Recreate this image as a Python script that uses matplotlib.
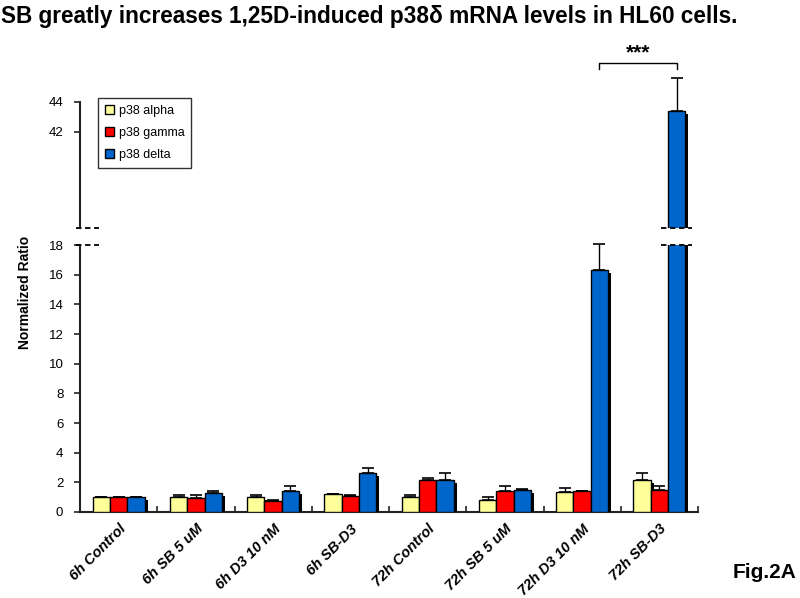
import matplotlib
matplotlib.use("Agg")
import matplotlib.pyplot as plt
import matplotlib.transforms as mtransforms
from matplotlib.patches import Patch
import numpy as np

# ---------------- data ----------------
categories = ["6h Control", "6h SB 5 uM", "6h D3 10 nM", "6h SB-D3",
              "72h Control", "72h SB 5 uM", "72h D3 10 nM", "72h SB-D3"]
series_names = ["p38 alpha", "p38 gamma", "p38 delta"]
alpha_vals = [1.00, 1.04, 0.99, 1.19, 1.04, 0.84, 1.38, 2.14]
alpha_err  = [0.00, 0.09, 0.13, 0.00, 0.08, 0.15, 0.27, 0.49]
gamma_vals = [1.00, 0.97, 0.74, 1.06, 2.14, 1.42, 1.40, 1.51]
gamma_err  = [0.00, 0.15, 0.05, 0.07, 0.15, 0.31, 0.03, 0.27]
delta_vals = [1.00, 1.31, 1.42, 2.66, 2.14, 1.48, 16.30, 43.40]
delta_err  = [0.00, 0.09, 0.31, 0.33, 0.52, 0.07, 1.80, 2.20]
lower_ticks = [0, 2, 4, 6, 8, 10, 12, 14, 16, 18]
upper_ticks = [42, 44]
colors = ["#FFFF99", "#FF0000", "#0066CC"]

plt.rcParams['font.family'] = ['Liberation Sans', 'DejaVu Sans']

fig = plt.figure(figsize=(8.0, 5.98), dpi=100)
W, H = 800.0, 598.0
# lower axis: x 80..698 px, y 512..245 px (from top)
ax_lo = fig.add_axes([80 / W, (H - 512) / H, 618 / W, 267 / H])
# upper axis: bottom at 228 px, value range 35.5..47.6
up_lo, up_hi = 35.5, 47.6
px_per_unit = 267 / 18.0
up_h = (up_hi - up_lo) * px_per_unit
ax_up = fig.add_axes([80 / W, (H - 228) / H, 618 / W, up_h / H])

n = len(categories)
centers = np.arange(n) + 0.5
w = 0.224
offsets = [-w, 0.0, w]
vals = [alpha_vals, gamma_vals, delta_vals]
errs = [alpha_err, gamma_err, delta_err]
drop = 3 / px_per_unit

for ax in (ax_lo, ax_up):
    shadow_tr = ax.transData + mtransforms.ScaledTranslation(3 / 100, 0, fig.dpi_scale_trans)
    for k in range(3):
        v = np.array(vals[k])
        x = centers + offsets[k]
        ax.bar(x, v - drop, width=w, color="black", edgecolor="black",
               linewidth=0, transform=shadow_tr, zorder=2 + 2 * k)
        ax.bar(x, v, width=w, color=colors[k], edgecolor="black",
               linewidth=1.0, zorder=3 + 2 * k)

# error bars (upper side only)
for k in range(3):
    v = np.array(vals[k])
    e = np.array(errs[k])
    x = centers + offsets[k]
    lo_mask = (v + e) < 19
    ax_lo.errorbar(x[lo_mask], v[lo_mask],
                   yerr=[np.zeros(lo_mask.sum()), e[lo_mask]],
                   fmt="none", ecolor="black", elinewidth=1.0, capsize=4,
                   capthick=1.2, zorder=1, clip_on=False)
    up_mask = v > up_lo
    if up_mask.any():
        ax_up.errorbar(x[up_mask], v[up_mask],
                       yerr=[np.zeros(up_mask.sum()), e[up_mask]],
                       fmt="none", ecolor="black", elinewidth=1.0, capsize=4,
                       capthick=1.2, zorder=1)

# axes styling
ax_lo.set_xlim(0, n)
ax_lo.set_ylim(0, 18)
ax_up.set_xlim(0, n)
ax_up.set_ylim(up_lo, up_hi)
for ax in (ax_lo, ax_up):
    ax.spines['top'].set_visible(False)
    ax.spines['right'].set_visible(False)
    ax.spines['left'].set_linewidth(1.5)
    ax.spines['left'].set_color("#222222")
    ax.tick_params(axis='y', direction='out', length=4, width=1.2,
                   labelsize=9.5, pad=8, color="#222222")
    ax.patch.set_alpha(0)
ax_up.spines['bottom'].set_visible(False)
ax_up.spines['left'].set_bounds(up_lo, 44)
ax_up.set_yticks(upper_ticks)
ax_up.set_xticks([])
ax_lo.set_yticks(lower_ticks)
ax_lo.spines['bottom'].set_linewidth(1.5)
ax_lo.spines['bottom'].set_color("#222222")
ax_lo.set_xticks(centers)
ax_lo.set_xticklabels(categories, rotation=45, ha='right', rotation_mode='anchor',
                      fontsize=10.5, fontweight='bold', fontstyle='italic')
ax_lo.tick_params(axis='x', which='major', length=0, pad=7)
ax_lo.set_xticks(np.arange(1, n + 1), minor=True)
ax_lo.tick_params(axis='x', which='minor', direction='in', length=4, width=1.2,
                  color="#222222")

# break marks
dash_kw = dict(color="black", linewidth=1.3, linestyle=(0, (3, 2)), clip_on=False, zorder=20)
ax_lo.plot([-0.05, 0.25], [18, 18], **dash_kw)
ax_up.plot([-0.05, 0.25], [up_lo, up_lo], **dash_kw)
bx = centers[-1] + offsets[2]
ax_lo.plot([bx - 0.2, bx + 0.2], [18, 18], **dash_kw)
ax_up.plot([bx - 0.2, bx + 0.2], [up_lo, up_lo], **dash_kw)

# significance bracket
x1 = centers[6] + offsets[2]
x2 = centers[7] + offsets[2]
yb = 46.6
ax_up.plot([x1, x1, x2, x2], [yb - 0.35, yb, yb, yb - 0.35], color="black",
           linewidth=1.0, clip_on=False)
ax_up.text((x1 + x2) / 2, yb + 0.05, "***", ha='center', va='bottom',
           fontsize=15, fontweight='bold')

# legend
handles = [Patch(facecolor=c, edgecolor="black", linewidth=1.0) for c in colors]
leg = fig.legend(handles, series_names, loc='upper left',
                 bbox_to_anchor=(98 / W, 1 - 98 / H), bbox_transform=fig.transFigure,
                 fontsize=9, frameon=True, fancybox=False, borderaxespad=0,
                 handlelength=0.7, handleheight=0.7, handletextpad=0.4,
                 labelspacing=0.8, borderpad=0.55)
leg.get_frame().set_edgecolor("black")
leg.get_frame().set_linewidth(1.0)

# texts
fig.text(1 / W, 1 - 17 / H, "SB greatly increases 1,25D-induced p38\u03b4 mRNA levels in HL60 cells.",
         ha='left', va='center', fontsize=16.3, fontweight='bold')
fig.text(25 / W, 1 - 292 / H, "Normalized Ratio", rotation=90, ha='center', va='center',
         fontsize=10, fontweight='bold')
fig.text(797 / W, 1 - 572 / H, "Fig.2A", ha='right', va='center', fontsize=15,
         fontweight='bold', family=['Liberation Sans Narrow', 'Liberation Sans'])

fig.savefig("out.png", dpi=100)
